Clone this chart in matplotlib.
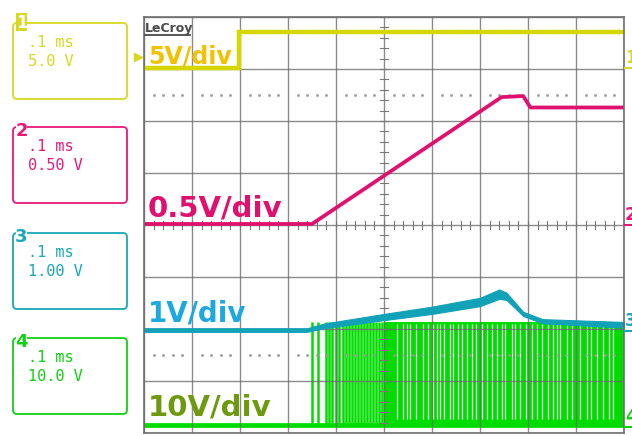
import matplotlib
matplotlib.use("Agg")
import matplotlib.pyplot as plt
from matplotlib.patches import FancyBboxPatch, Rectangle

# channel settings
ch_names = ["1", "2", "3", "4"]
ch_scale = [5.0, 0.5, 1.0, 10.0]            # V/div
ch_labels = ["5V/div", "0.5V/div", "1V/div", "10V/div"]
ch_box_volts = ["5.0 V", "0.50 V", "1.00 V", "10.0 V"]
ch_ground = [7.02, 4.02, 1.98, 0.15]        # ground level, divisions from bottom
time_base = ".1 ms"

# ch1 (yellow): time in divisions, volts
t1 = [0, 1.97, 1.97, 10]
v1 = [0, 0, 3.5, 3.5]

# ch2 (magenta)
t2 = [0, 3.5, 7.45, 7.9, 8.05, 10]
v2 = [0, 0, 1.22, 1.23, 1.12, 1.12]

# ch3 (cyan): centre line and noise half width
t3 = [0, 3.4, 3.75, 5.0, 6.0, 7.0, 7.4, 7.55, 7.9, 8.3, 10]
v3 = [0, 0, 0.08, 0.25, 0.38, 0.54, 0.69, 0.65, 0.31, 0.17, 0.10]
n3 = [0.035, 0.035, 0.045, 0.06, 0.07, 0.08, 0.09, 0.07, 0.04, 0.04, 0.055]

# ch4 (green): switching pulses
v4_high = 19.8
pulse_t = [3.50, 3.625, 3.79, 3.85, 3.92, 4.0, 4.06, 4.15, 4.21, 4.27, 4.33,
           4.40, 4.46, 4.52, 4.58, 4.65, 4.71, 4.77, 4.83, 4.90, 4.96]
burst_start, burst_end = 5.0, 10.0
gap_t = [5.27, 5.40, 5.48, 5.54, 5.67, 5.81, 5.92, 6.02, 6.10, 6.17, 6.25,
         6.375, 6.44, 6.54, 6.625, 6.73, 6.83, 6.92, 7.04, 7.15, 7.25, 7.35,
         7.46, 7.52, 7.67, 7.73, 7.83, 7.96, 8.08, 8.19, 8.29, 8.42, 8.52,
         8.60, 8.67, 8.81, 8.92, 9.08, 9.23, 9.31, 9.44, 9.56, 9.69, 9.77]

trace_col = ["#d6d600", "#e0106e", "#12a2b8", "#00dc00"]
label_col = ["#f2c200", "#e0106e", "#1ca8e0", "#6e9a10"]
box_col = ["#d8d820", "#e8187a", "#18a8b8", "#10d010"]


def to_div(v, ch):
    return [ch_ground[ch] + x / ch_scale[ch] for x in v]


fig = plt.figure(figsize=(6.32, 4.36), dpi=100)
W, H = 632, 436
ax = fig.add_axes([144 / W, 3 / H, 480 / W, 416 / H])
ax.set_xlim(0, 10)
ax.set_ylim(0, 8)
ax.set_xticks(range(11))
ax.set_yticks(range(9))
ax.tick_params(length=0, labelbottom=False, labelleft=False)
for s in ax.spines.values():
    s.set_color("#6e6e6e")
    s.set_linewidth(1.2)
    s.set_zorder(5)
ax.grid(True, color="#6e6e6e", lw=1.0, alpha=0.8, zorder=3)
ax.set_axisbelow(False)

# centre line ticks and dotted rows
for k in range(51):
    x = k / 5
    ax.plot([x, x], [4 - 0.075, 4 + 0.075], color="#777777", lw=0.8, zorder=3)
for k in range(41):
    y = k / 5
    ax.plot([5 - 0.08, 5 + 0.08], [y, y], color="#777777", lw=0.8, zorder=3)
dots = [k / 5 for k in range(51) if k % 5]
for yd in [6.5, 1.5]:
    ax.plot(dots, [yd] * len(dots), ls="none", marker="s", ms=0.9,
            color="#999999", zorder=3)

# ch4 green
base4 = ch_ground[3]
top4 = to_div([v4_high], 3)[0]
ax.plot([0, 10], [base4, base4], color=trace_col[3], lw=3.4, zorder=2)
ax.vlines(pulse_t, base4, top4, color=trace_col[3], lw=1.8, zorder=2)
ax.fill_between([burst_start, burst_end], base4, top4, color=trace_col[3],
                lw=0, zorder=2)
ax.vlines(gap_t, base4 + 0.12, top4 - 0.03, color="#eaffea", lw=0.9, zorder=2)

# ch3 cyan band
lo3 = [a - b for a, b in zip(v3, n3)]
hi3 = [a + b for a, b in zip(v3, n3)]
ax.fill_between(t3, to_div(lo3, 2), to_div(hi3, 2), color=trace_col[2],
                lw=0.8, edgecolor=trace_col[2], zorder=4)

# ch2 magenta, ch1 yellow
ax.plot(t2, to_div(v2, 1), color=trace_col[1], lw=2.7, zorder=4)
ax.plot(t1, to_div(v1, 0), color=trace_col[0], lw=3.2, zorder=4,
        solid_joinstyle="miter")

# overlay in pixel coordinates for the screen furniture
ov = fig.add_axes([0, 0, 1, 1])
ov.set_xlim(0, W)
ov.set_ylim(H, 0)
ov.axis("off")
ov.patch.set_alpha(0)

box_tops = [23, 127, 233, 338]
for i in range(4):
    top = box_tops[i]
    ov.add_patch(FancyBboxPatch((13, top), 114, 76,
                                boxstyle="round,pad=0,rounding_size=4",
                                fc="none", ec=box_col[i], lw=1.3))
    if i == 0:
        ov.add_patch(Rectangle((16, top - 10), 11, 18, fc=box_col[i], ec="none"))
        ov.text(21.5, top + 5, ch_names[i], color="white", fontsize=12,
                fontweight="bold", ha="center", va="baseline")
    else:
        ov.add_patch(Rectangle((16, top - 3), 11, 6, fc="white", ec="none"))
        ov.text(21.5, top + 9, ch_names[i], color=box_col[i], fontsize=13,
                fontweight="bold", ha="center", va="baseline")
    ov.text(28, top + 24, time_base, color=box_col[i], fontsize=11,
            family="DejaVu Sans Mono", va="baseline")
    ov.text(28, top + 43, ch_box_volts[i], color=box_col[i], fontsize=11,
            family="DejaVu Sans Mono", va="baseline")

# V/div labels inside the grid
lab_y = [63, 216, 321, 415]
lab_fs = [17, 21, 20, 21]
for i in range(4):
    ov.text(148, lab_y[i], ch_labels[i], color=label_col[i], fontsize=lab_fs[i],
            fontweight="bold", va="baseline", zorder=6)

# LeCroy logo
ov.text(145, 32, "LeCroy", color="#4a4a4a", fontsize=9, fontweight="bold",
        va="baseline")
ov.plot([145, 190], [35.5, 35.5], color="#4a4a4a", lw=1.3)

# trigger marker and right ground markers
ov.plot([138], [57], marker=">", ms=6, color=box_col[0], ls="none")
mark_y = [68, 225, 331, 427]
for i in range(4):
    ov.plot([625, 632], [mark_y[i], mark_y[i]], color=box_col[i], lw=1.5)
    ov.text(625, mark_y[i] - 5, ch_names[i], color=box_col[i], fontsize=12,
            fontweight="bold", va="baseline")

fig.savefig("out.png", dpi=100)
